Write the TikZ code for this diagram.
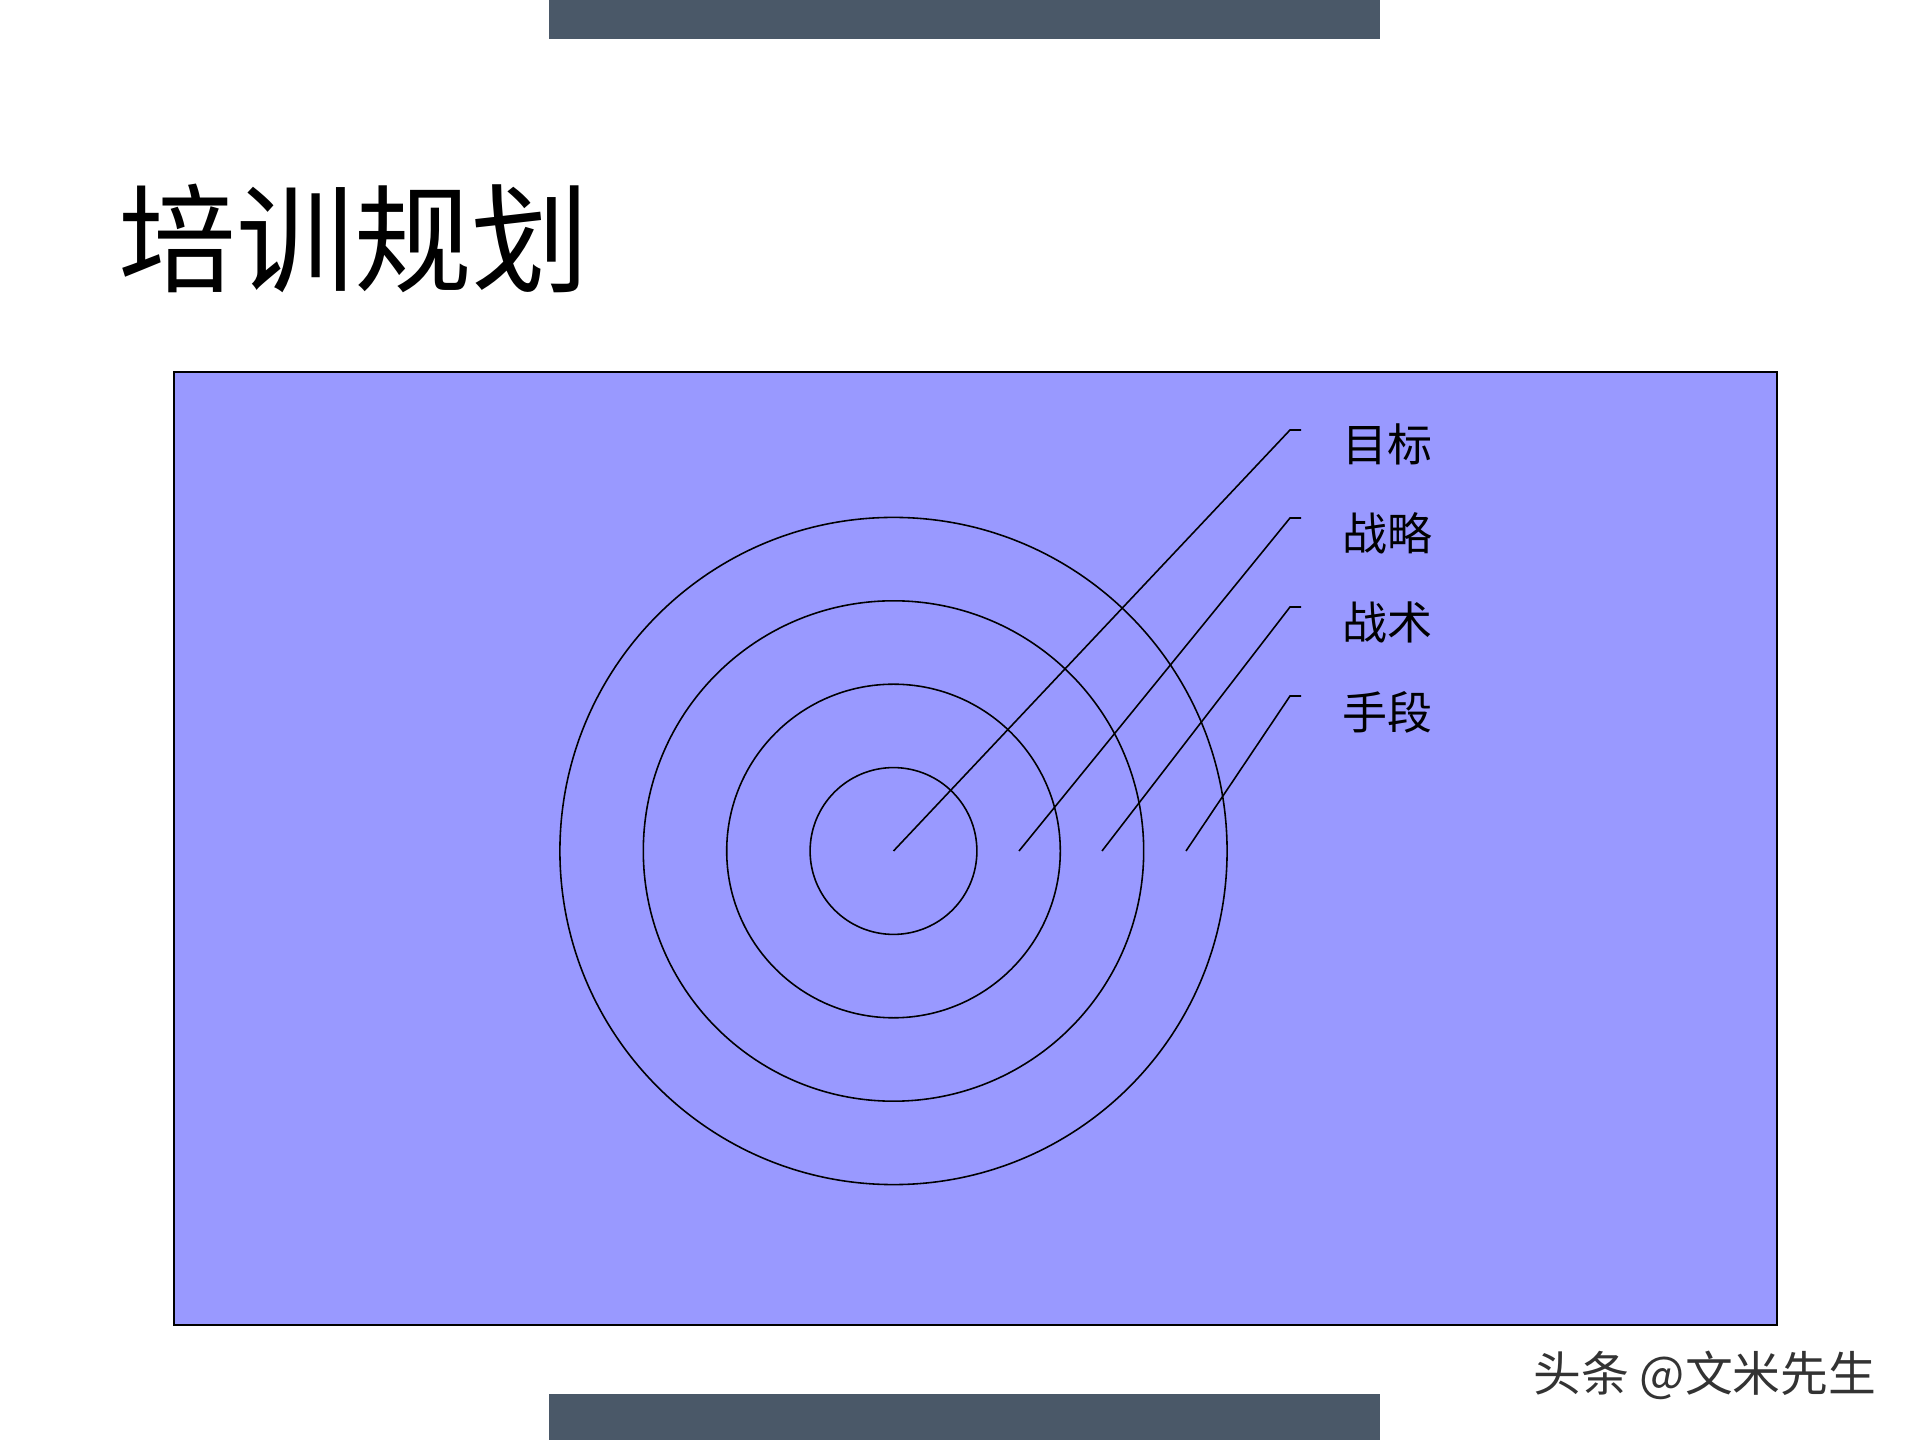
\documentclass[tikz,border=0pt]{standalone}
\usepackage{fontspec}
\newfontfamily\cjk{Noto Sans CJK SC}
\usetikzlibrary{positioning}
\definecolor{slate}{HTML}{4A5868}
\definecolor{board}{HTML}{9999FF}

\begin{document}
\begin{tikzpicture}[x=0.1mm,y=-0.1mm,
ring/.style={draw=black,line width=0.45pt},
lead/.style={draw=black,line width=0.45pt},
tag/.style={font=\cjk\fontsize{12.8}{14}\selectfont,inner sep=0pt,anchor=west}]
\useasboundingbox (0,0) rectangle (1920,1440);
\fill[slate] (549,0) rectangle (1380,39);
\fill[slate] (549,1394) rectangle (1380,1440);
\node[anchor=west,inner sep=0pt,font=\cjk\fontsize{33.5}{36}\selectfont] (T) at (118,238) {培训规划};
\draw[fill=board,line width=0.6pt] (174,372) rectangle (1777,1325);
\coordinate (C) at (893.5,851);
\foreach \r in {1,...,4}
  \draw[ring] (C) circle[radius=\r*8.34mm];
\coordinate (S1) at (893.5,851);
\coordinate (S2) at (1019,851);
\coordinate (S3) at (1102,851);
\coordinate (S4) at (1186,851);
\coordinate (K1) at (1290,430);
\coordinate (K2) at (1290,518);
\coordinate (K3) at (1290,607);
\coordinate (K4) at (1290,696);
\node[tag] (L1) at (1342,444) {目标};
\node[tag] (L2) at (1342,533) {战略};
\node[tag] (L3) at (1342,622) {战术};
\node[tag] (L4) at (1342,712) {手段};
\draw[lead] (S1) -- (K1) -- ++(11,0);
\draw[lead] (S2) -- (K2) -- ++(11,0);
\draw[lead] (S3) -- (K3) -- ++(11,0);
\draw[lead] (S4) -- (K4) -- ++(11,0);
\node[font=\cjk\fontsize{13.6}{15}\selectfont,text=black!80,inner sep=0pt] (W) at (1705,1375) {头条 @文米先生};
\end{tikzpicture}
\end{document}
